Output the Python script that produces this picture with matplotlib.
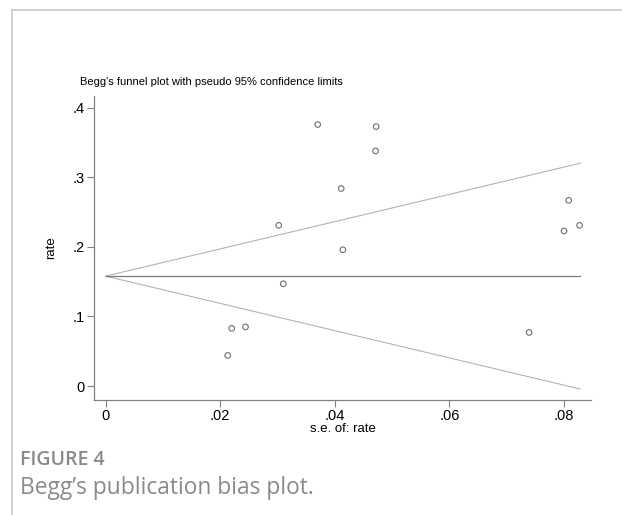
import matplotlib.pyplot as plt
from matplotlib.lines import Line2D

# study estimates: standard error vs rate
se = [0.0370, 0.0472, 0.0471, 0.0411, 0.0302, 0.0414, 0.0310,
      0.0220, 0.0244, 0.0213, 0.0808, 0.0827, 0.0800, 0.0739]
rate = [0.376, 0.373, 0.338, 0.284, 0.231, 0.196, 0.147,
        0.083, 0.085, 0.044, 0.267, 0.231, 0.223, 0.077]

pooled = 0.158
se_max = 0.0828

xticks = [0, 0.02, 0.04, 0.06, 0.08]
xtick_labels = ['0', '.02', '.04', '.06', '.08']
yticks = [0, 0.1, 0.2, 0.3, 0.4]
ytick_labels = ['0', '.1', '.2', '.3', '.4']

plt.rcParams['font.family'] = ['Liberation Sans', 'DejaVu Sans']

fig = plt.figure(figsize=(6.22, 5.15), dpi=100)
ax = fig.add_axes([0.1511, 0.2233, 0.7991, 0.5903])

# pseudo 95% confidence limits
ax.plot([0, se_max], [pooled, pooled + 1.96 * se_max], color='#b4b4b4', lw=0.8)
ax.plot([0, se_max], [pooled, pooled - 1.96 * se_max], color='#b4b4b4', lw=0.8)
ax.plot([0, se_max], [pooled, pooled], color='#7a7a7a', lw=0.9)

ax.scatter(se, rate, s=16, facecolors='none', edgecolors='#6e6e6e', linewidths=0.8, zorder=3)

ax.set_xlim(-0.00204, 0.0847)
ax.set_ylim(-0.0201, 0.417)
ax.set_xticks(xticks)
ax.set_xticklabels(xtick_labels)
ax.set_yticks(yticks)
ax.set_yticklabels(ytick_labels)
ax.tick_params(labelsize=10.5, length=5, width=0.8, color='#808080', pad=1.5)

for s in ['top', 'right']:
    ax.spines[s].set_visible(False)
for s in ['left', 'bottom']:
    ax.spines[s].set_color('#808080')
    ax.spines[s].set_linewidth(0.9)

ax.set_xlabel('s.e. of: rate', fontsize=9.5, labelpad=0)
ax.set_ylabel('rate', fontsize=9.5, labelpad=11)

fig.text(80 / 622, 1 - 82 / 515, "Begg's funnel plot with pseudo 95% confidence limits",
         fontsize=8, va='center', ha='left')

# frame of the figure panel
fig.add_artist(Line2D([12 / 622, 1], [1 - 10 / 515, 1 - 10 / 515], color='#c8c8c8', lw=1.2))
fig.add_artist(Line2D([12 / 622, 12 / 622], [0, 1 - 10 / 515], color='#c8c8c8', lw=1.2))

fig.text(20 / 622, 1 - 460 / 515, 'FIGURE 4', fontsize=14, color='#8a8a8a',
         fontweight='semibold', family=['Open Sans', 'DejaVu Sans'], va='center')
fig.text(20 / 622, 1 - 488 / 515, 'Begg\u2019s publication bias plot.', fontsize=16.4, color='#8a8a8a',
         family=['Open Sans', 'DejaVu Sans'], va='center')

fig.savefig('out.png', dpi=100)
